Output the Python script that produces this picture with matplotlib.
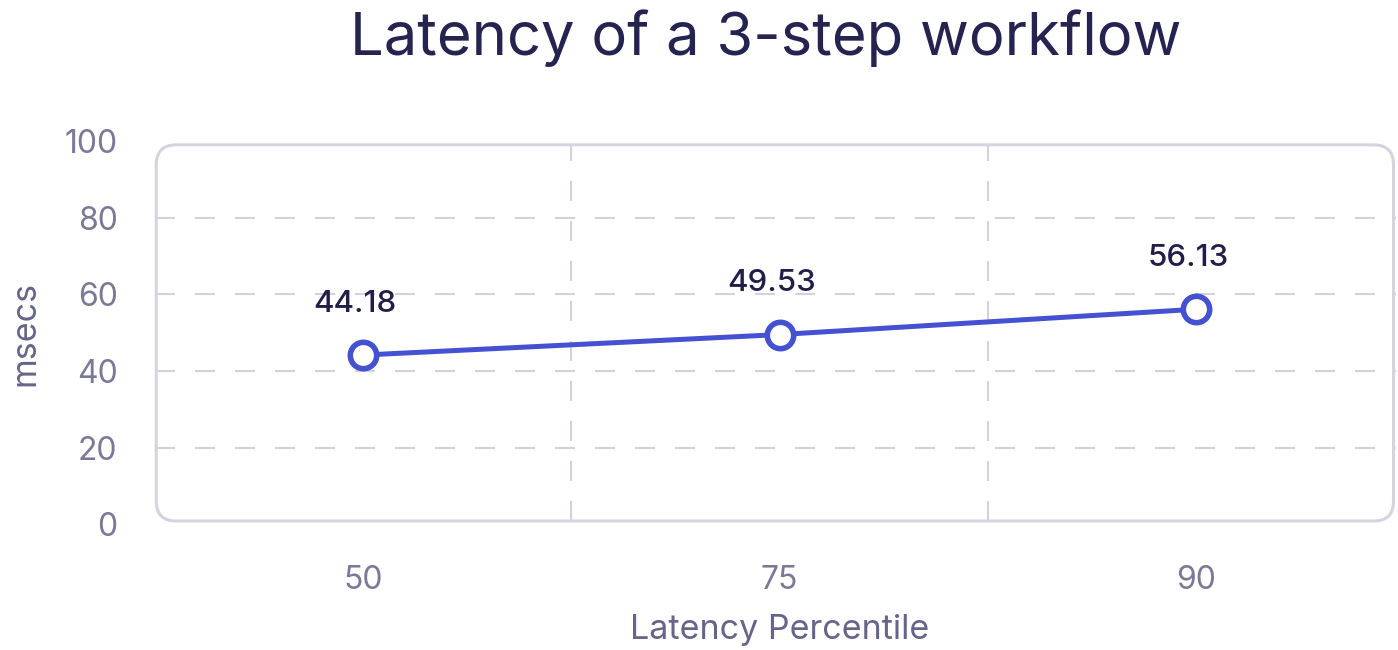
import matplotlib
matplotlib.use('Agg')
from matplotlib import pyplot as plt
from matplotlib.patches import FancyBboxPatch

# data
percentiles = ['50', '75', '90']
latency_ms = [44.18, 49.53, 56.13]
y_ticks = [0, 20, 40, 60, 80, 100]

plt.rcParams['font.family'] = ['Inter', 'DejaVu Sans']

W, H = 1398, 650
fig = plt.figure(figsize=(W / 100, H / 100), dpi=100)
ax_l, ax_r, ax_top, ax_bot = 155, 1396, 141, 524.5
ax = fig.add_axes([ax_l / W, 1 - ax_bot / H, (ax_r - ax_l) / W, (ax_bot - ax_top) / H])

x = list(range(len(percentiles)))
ax.set_xlim(-0.5, 2.48)
ax.set_ylim(0, 100)

for s in ax.spines.values():
    s.set_visible(False)

grid_col = '#d3d2dc'
# horizontal dashed grid
for yv in y_ticks[1:-1]:
    l = ax.axhline(yv, color=grid_col, lw=1.5, zorder=1)
    l.set_dashes((9.6, 9.6))
# vertical dashed separators between categories
for xv in [0.5, 1.5]:
    l = ax.axvline(xv, ymin=0.01, ymax=0.99, color=grid_col, lw=1.5, zorder=1)
    l.set_dashes((9.6, 9.6))

# rounded frame
aw, ah = ax_r - ax_l, ax_bot - ax_top
r = 20 / aw
box = FancyBboxPatch((0.001, 0.009), 0.997, 0.981, transform=ax.transAxes,
                     boxstyle='round,pad=0,rounding_size=%f' % r,
                     mutation_aspect=aw / ah,
                     fc='none', ec='#d4d3de', lw=2.2, clip_on=False, zorder=2)
ax.add_patch(box)

ax.plot(x, latency_ms, color='#4451d1', lw=3.6, marker='o', ms=19,
        mfc='white', mec='#4451d1', mew=4, zorder=4, solid_capstyle='round')

for xi, v in zip(x, latency_ms):
    ax.annotate('%.2f' % v, (xi, v), xytext=(-6, 37), textcoords='offset points',
                ha='center', va='center', fontsize=22.5, fontweight='medium',
                color='#211f4a', zorder=5)

tick_col = '#7b7996'
ax.set_xticks(x)
ax.set_xticklabels(percentiles)
ax.set_yticks(y_ticks)
ax.tick_params(axis='both', length=0, labelsize=23, labelcolor=tick_col)
ax.tick_params(axis='y', pad=27)
ax.tick_params(axis='x', pad=29)

fig.text((ax_l + ax_r) / 2 / W + 0.003, 1 - 630 / H, 'Latency Percentile',
         ha='center', va='center', fontsize=24.5, color='#66648a')
fig.text(25 / W, 1 - 333 / H, 'msecs', rotation=90, ha='center', va='center',
         fontsize=24.5, color='#66648a')
fig.text(766 / W, 1 - 38 / H, 'Latency of a 3-step workflow', ha='center',
         va='center', fontsize=43, color='#25234f')

fig.savefig('out.png', dpi=100)
